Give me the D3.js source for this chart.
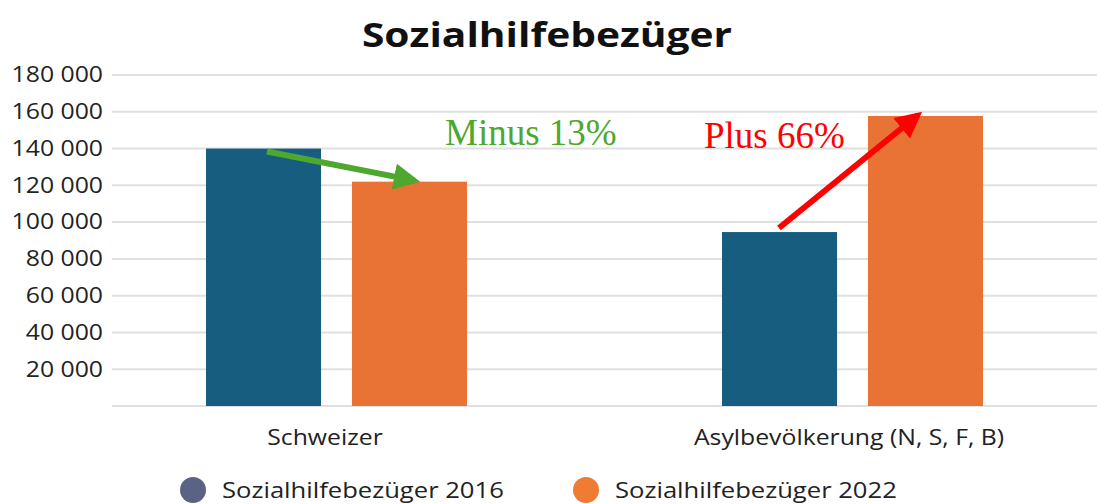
<!DOCTYPE html>
<html>
<head>
<meta charset="utf-8">
<script src="https://cdn.jsdelivr.net/npm/d3@7"></script>
<style>
  body { margin: 0; background: #fff; }
  svg { display: block; }
</style>
</head>
<body>
<div id="chart"></div>
<script>
// data
var categories = ["Schweizer", "Asylbevölkerung (N, S, F, B)"];
var seriesNames = ["Sozialhilfebezüger 2016", "Sozialhilfebezüger 2022"];
var values2016 = [140000, 94600];
var values2022 = [122000, 157700];
var yTicks = [20000, 40000, 60000, 80000, 100000, 120000, 140000, 160000, 180000];
var notes = ["Minus 13%", "Plus 66%"];

var width = 1097, height = 504;
var barColors = ["#175d80", "#e87334"];
var legendColors = ["#5a6384", "#ef7c32"];
var stretch = 1.18; // the source picture is a bit wider than tall

var svg = d3.select("#chart")
    .append("svg")
    .attr("width", width)
    .attr("height", height);

var y = d3.scaleLinear()
    .domain([0, 180000])
    .range([406, 75]);

var x0 = d3.scaleBand()
    .domain(categories)
    .range([78, 1110]);

var x1 = d3.scaleBand()
    .domain(seriesNames)
    .range([x0.bandwidth() / 2 - 130, x0.bandwidth() / 2 + 131])
    .paddingInner(0.212);

var fmt = d3.formatLocale({ decimal: ".", thousands: " ", grouping: [3] }).format(",");

function place(x, yy) {
    return "translate(" + x + "," + yy + ") scale(" + stretch + ",1)";
}

// title
svg.append("text")
    .attr("transform", place(547, 47))
    .attr("text-anchor", "middle")
    .attr("font-family", "Open Sans")
    .attr("font-weight", "bold")
    .attr("font-size", 34.5)
    .attr("fill", "#111")
    .text("Sozialhilfebezüger");

// grid + y labels
var grid = svg.append("g");
grid.selectAll("line")
    .data([0].concat(yTicks))
    .enter()
    .append("line")
    .attr("x1", 112)
    .attr("x2", width)
    .attr("y1", function (d) { return y(d); })
    .attr("y2", function (d) { return y(d); })
    .attr("stroke", "#e0e0e0")
    .attr("stroke-width", 2);

grid.selectAll("text")
    .data(yTicks)
    .enter()
    .append("text")
    .attr("transform", function (d) { return place(103, y(d)); })
    .attr("dy", "0.35em")
    .attr("text-anchor", "end")
    .attr("font-family", "Open Sans")
    .attr("font-size", 21)
    .attr("fill", "#222")
    .text(function (d) { return fmt(d); });

// bars
var rows = categories.map(function (c, i) {
    return { cat: c, vals: [values2016[i], values2022[i]] };
});

var group = svg.selectAll(".group")
    .data(rows)
    .enter()
    .append("g")
    .attr("class", "group")
    .attr("transform", function (d) { return "translate(" + x0(d.cat) + ",0)"; });

group.selectAll("rect")
    .data(function (d) {
        return d.vals.map(function (v, j) { return { s: seriesNames[j], v: v, j: j }; });
    })
    .enter()
    .append("rect")
    .attr("x", function (d) { return x1(d.s); })
    .attr("y", function (d) { return y(d.v); })
    .attr("width", x1.bandwidth())
    .attr("height", function (d) { return y(0) - y(d.v); })
    .attr("fill", function (d) { return barColors[d.j]; });

// category labels
svg.selectAll(".cat")
    .data(categories)
    .enter()
    .append("text")
    .attr("class", "cat")
    .attr("transform", function (d, i) {
        return place(x0(d) + x0.bandwidth() / 2 - [11, 3][i], 445);
    })
    .attr("text-anchor", "middle")
    .attr("font-family", "Open Sans")
    .attr("font-size", 21)
    .attr("fill", "#222")
    .text(function (d) { return d; });

// arrows
var defs = svg.append("defs");
["#4ea72e", "#ff0000"].forEach(function (c, i) {
    defs.append("marker")
        .attr("id", "arrow" + i)
        .attr("viewBox", "0 0 10 10")
        .attr("refX", 8)
        .attr("refY", 5)
        .attr("markerWidth", 4.4)
        .attr("markerHeight", 4.4)
        .attr("orient", "auto")
        .append("path")
        .attr("d", "M0,0 L10,5 L0,10 z")
        .attr("fill", c);
});

function barLeft(ci, si) {
    return x0(categories[ci]) + x1(seriesNames[si]);
}

var arrows = [
    { x1: barLeft(0, 0) + 61, y1: y(values2016[0]) + 3, x2: barLeft(0, 1) + 63, y2: y(values2022[0]) - 1, c: "#4ea72e", m: 0 },
    { x1: barLeft(1, 0) + 57, y1: y(values2016[1]) - 4, x2: barLeft(1, 1) + 50, y2: y(values2022[1]) - 1, c: "#ff0000", m: 1 }
];

svg.selectAll(".arrow")
    .data(arrows)
    .enter()
    .append("line")
    .attr("class", "arrow")
    .attr("x1", function (d) { return d.x1; })
    .attr("y1", function (d) { return d.y1; })
    .attr("x2", function (d) { return d.x2; })
    .attr("y2", function (d) { return d.y2; })
    .attr("stroke", function (d) { return d.c; })
    .attr("stroke-width", 6)
    .attr("marker-end", function (d) { return "url(#arrow" + d.m + ")"; });

// annotations
svg.append("text")
    .attr("x", 445)
    .attr("y", 145)
    .attr("font-family", "Liberation Serif")
    .attr("font-size", 37)
    .attr("fill", "#4ea72e")
    .text(notes[0]);

svg.append("text")
    .attr("x", 704)
    .attr("y", 148)
    .attr("font-family", "Liberation Serif")
    .attr("font-size", 37)
    .attr("fill", "#ff0000")
    .text(notes[1]);

// legend
var legend = svg.selectAll(".legend")
    .data(seriesNames)
    .enter()
    .append("g")
    .attr("class", "legend")
    .attr("transform", function (d, i) { return "translate(" + [193, 586][i] + ",490)"; });

legend.append("circle")
    .attr("r", 13)
    .attr("fill", function (d, i) { return legendColors[i]; });

legend.append("text")
    .attr("transform", place(29, 0))
    .attr("dy", "0.35em")
    .attr("font-family", "Open Sans")
    .attr("font-size", 21.7)
    .attr("fill", "#222")
    .text(function (d) { return d; });
</script>
</body>
</html>
